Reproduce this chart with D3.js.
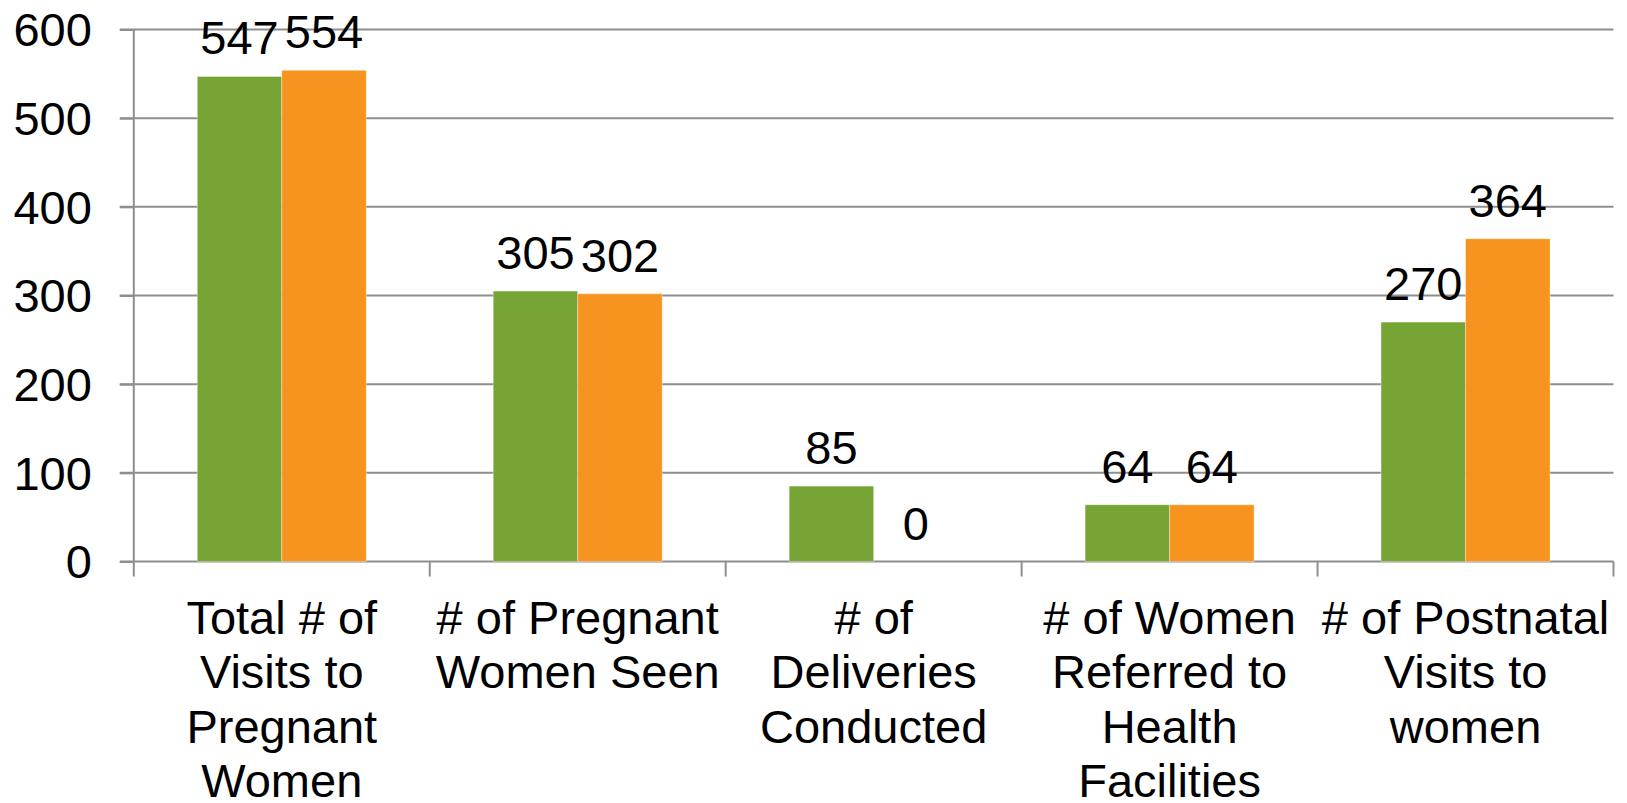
<!DOCTYPE html>
<html>
<head>
<meta charset="utf-8">
<script src="https://cdn.jsdelivr.net/npm/d3@7"></script>
<style>
  html, body { margin: 0; padding: 0; background: #fff; }
  svg { display: block; }
  text { font-family: "Liberation Sans", Arial, sans-serif; fill: #000; }
</style>
</head>
<body>
<svg id="chart" width="1627" height="803"></svg>
<script>
// ---- data ----
const categories = [
  "Total # of\nVisits to\nPregnant\nWomen",
  "# of Pregnant\nWomen Seen",
  "# of\nDeliveries\nConducted",
  "# of Women\nReferred to\nHealth\nFacilities",
  "# of Postnatal\nVisits to\nwomen"
];
const seriesNames = ["Series A", "Series B"];
const seriesA = [547, 305, 85, 64, 270];
const seriesB = [554, 302, 0, 64, 364];
const yTicks = [0, 100, 200, 300, 400, 500, 600];
const colors = ["#76A535", "#F7941F"];

// ---- layout ----
const W = 1627, H = 803;
const plotLeft = 133.8, plotRight = 1613.5, plotTop = 29.5, plotBottom = 561.5;
const fontSize = 47;

const svg = d3.select("#chart");
svg.append("rect").attr("width", W).attr("height", H).attr("fill", "#fff");

const y = d3.scaleLinear().domain([0, 600]).range([plotBottom, plotTop]);
const x0 = d3.scaleBand().domain(categories).range([plotLeft, plotRight]).padding(0);
const bw = x0.bandwidth();
const gap = bw * 0.2145;
const x1 = d3.scaleBand().domain(seriesNames).range([gap, bw - gap]).padding(0);

const gridColor = "#8e8e8e";

// gridlines (with outer ticks to the left)
svg.append("g").selectAll("line").data(yTicks).join("line")
  .attr("x1", plotLeft - 14).attr("x2", plotRight)
  .attr("y1", d => y(d)).attr("y2", d => y(d))
  .attr("stroke", gridColor).attr("stroke-width", 2);

// y axis via d3 axis (labels)
const yAxis = d3.axisLeft(y).tickValues(yTicks).tickSize(14).tickPadding(28).tickFormat(d3.format("d"));
const gy = svg.append("g").attr("transform", `translate(${plotLeft},0)`).call(yAxis);
gy.select(".domain").remove();
gy.selectAll(".tick line").attr("stroke", gridColor).attr("stroke-width", 2);
gy.selectAll(".tick text")
  .attr("font-size", fontSize)
  .attr("font-family", "'Liberation Sans', Arial, sans-serif")
  .attr("fill", "#000")
  .attr("dy", "0.35em");

// y axis line
svg.append("line")
  .attr("x1", plotLeft).attr("x2", plotLeft).attr("y1", plotTop).attr("y2", plotBottom)
  .attr("stroke", gridColor).attr("stroke-width", 2);

// x-axis boundary ticks
const boundaries = categories.map(c => x0(c)).concat([x0.range()[1]]);
svg.append("g").selectAll("line").data(boundaries).join("line")
  .attr("x1", d => d).attr("x2", d => d)
  .attr("y1", plotBottom).attr("y2", plotBottom + 15)
  .attr("stroke", gridColor).attr("stroke-width", 2);

// bars
const rows = categories.map((c, i) => ({ cat: c, vals: [seriesA[i], seriesB[i]] }));
const groups = svg.append("g").selectAll("g").data(rows).join("g")
  .attr("transform", d => `translate(${x0(d.cat)},0)`);

groups.selectAll("rect").data(d => d.vals.map((v, j) => ({ v, s: seriesNames[j], j })))
  .join("rect")
  .attr("x", d => x1(d.s))
  .attr("width", x1.bandwidth())
  .attr("y", d => y(d.v))
  .attr("height", d => plotBottom - y(d.v))
  .attr("fill", d => colors[d.j])
  .attr("stroke", "rgba(255,255,255,0.35)")
  .attr("stroke-width", d => d.v > 0 ? 1 : 0);

// data labels
groups.selectAll("text.val").data(d => d.vals.map((v, j) => ({ v, s: seriesNames[j], j })))
  .join("text")
  .attr("class", "val")
  .attr("x", d => x1(d.s) + x1.bandwidth() / 2)
  .attr("y", d => y(d.v) - 22)
  .attr("text-anchor", "middle")
  .attr("font-size", fontSize)
  .text(d => d.v);

// category labels
const lineH = 54.3;
svg.append("g").selectAll("text").data(categories).join("text")
  .attr("text-anchor", "middle")
  .attr("font-size", fontSize)
  .attr("transform", d => `translate(${x0(d) + bw / 2},634)`)
  .each(function (d) {
    const t = d3.select(this);
    d.split("\n").forEach((ln, k) => {
      t.append("tspan").attr("x", 0).attr("y", k * lineH).text(ln);
    });
  });
</script>
</body>
</html>
